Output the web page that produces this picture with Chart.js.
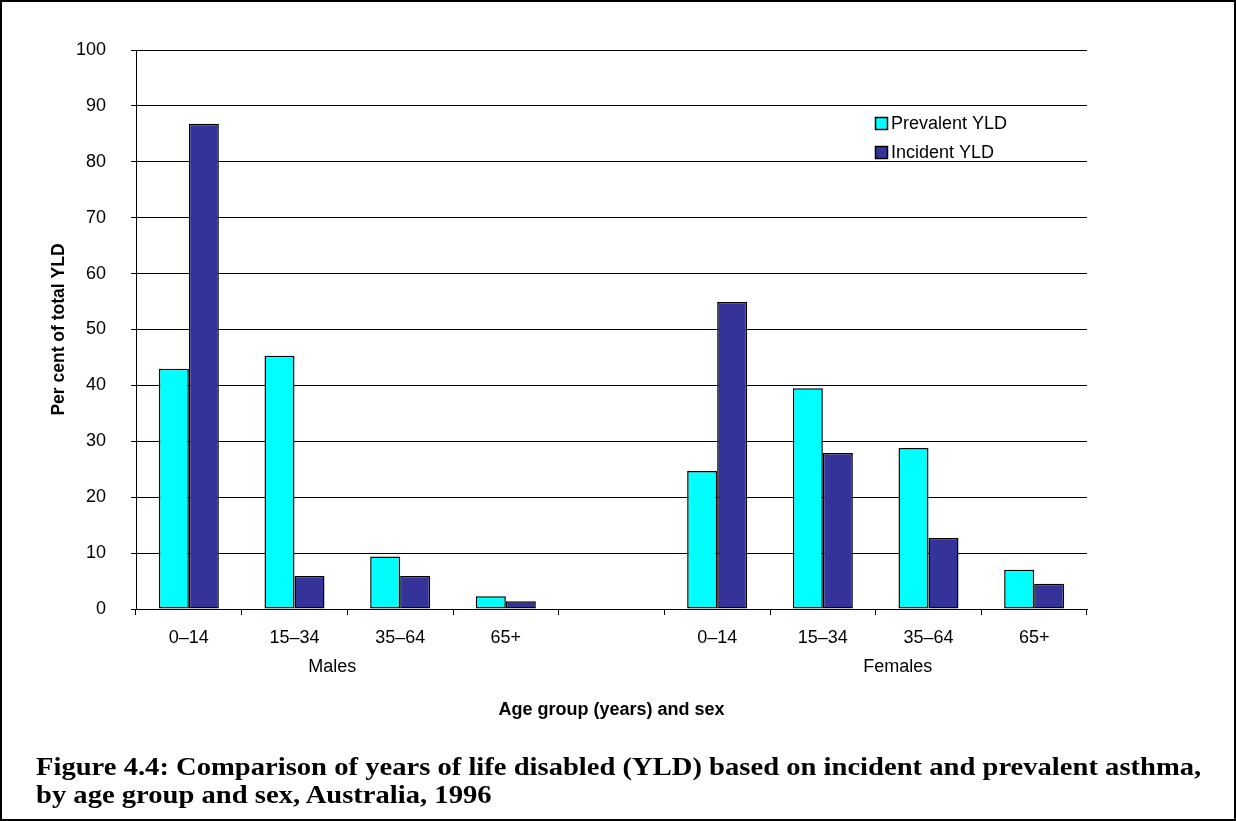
<!DOCTYPE html>
<html>
<head>
<meta charset="utf-8">
<script src="https://cdn.jsdelivr.net/npm/chart.js@4.4.0/dist/chart.umd.min.js"></script>
<style>
  html, body { margin: 0; padding: 0; background: #fff; }
  #frame { position: relative; width: 1232px; height: 817px; border: 2px solid #000; overflow: hidden; }
  #chartBox { position: absolute; left: 0; top: 0; width: 1232px; height: 817px; }
  #caption {
    position: absolute; left: 34px; top: 751px; white-space: nowrap;
    font-family: "Liberation Serif", serif; font-weight: bold; font-size: 26px; line-height: 28px; color: #000;
    transform: scaleX(1.1); transform-origin: left top;
  }
</style>
</head>
<body>
<div id="frame">
  <div id="chartBox"><canvas id="yldChart"></canvas></div>
  <div id="caption">Figure 4.4: Comparison of years of life disabled (YLD) based on incident and prevalent asthma,<br>by age group and sex, Australia, 1996</div>
</div>
<script>
// categories (blank slot between the two sexes)
const ageGroups = ['0–14', '15–34', '35–64', '65+', '', '0–14', '15–34', '35–64', '65+'];
const sexGroups = ['Males', 'Females'];

// per cent of total YLD
const prevalentYLD = [43.0, 45.3, 9.4, 2.3, null, 24.7, 39.5, 28.8, 7.0];
const incidentYLD = [86.8, 5.9, 5.9, 1.4, null, 54.9, 27.9, 12.7, 4.5];

const yTicks = [0, 10, 20, 30, 40, 50, 60, 70, 80, 90, 100];

const tickFont = { family: 'Liberation Sans, Arial, sans-serif', size: 18 };

// group labels under the age groups (Males / Females)
const groupLabels = {
    id: 'groupLabels',
    afterDraw(chart) {
        const ctx = chart.ctx;
        const x = chart.scales.x;
        ctx.save();
        ctx.font = '18px "Liberation Sans", Arial, sans-serif';
        ctx.fillStyle = '#000';
        ctx.textAlign = 'center';
        ctx.textBaseline = 'middle';
        ctx.fillText(sexGroups[0], x.getPixelForValue(1.5) - 15, 665);
        ctx.fillText(sexGroups[1], x.getPixelForValue(6.5) + 22, 665);
        ctx.restore();
    }
};

// legend in the upper right of the plot
const boxLegend = {
    id: 'boxLegend',
    afterDraw(chart) {
        const ctx = chart.ctx;
        ctx.save();
        ctx.font = '18px "Liberation Sans", Arial, sans-serif';
        ctx.textBaseline = 'middle';
        chart.data.datasets.forEach((ds, i) => {
            const y = 121 + i * 29;
            ctx.fillStyle = ds.backgroundColor;
            ctx.fillRect(873.5, y - 5.5, 12, 12);
            ctx.strokeStyle = '#000';
            ctx.lineWidth = 1.5;
            ctx.strokeRect(873.5, y - 5.5, 12, 12);
            ctx.fillStyle = '#000';
            ctx.fillText(ds.label, 889, y + 1);
        });
        ctx.restore();
    }
};

const ctx = document.getElementById('yldChart').getContext('2d');
const yldChart = new Chart(ctx, {
    type: 'bar',
    data: {
        labels: ageGroups,
        datasets: [
            {
                label: 'Prevalent YLD',
                data: prevalentYLD,
                backgroundColor: '#00FFFF',
                borderColor: '#000',
                borderWidth: 1.5,
                borderSkipped: false
            },
            {
                label: 'Incident YLD',
                data: incidentYLD,
                backgroundColor: '#333399',
                borderColor: '#000',
                borderWidth: 1.5,
                borderSkipped: false
            }
        ]
    },
    options: {
        responsive: true,
        maintainAspectRatio: false,
        animation: false,
        datasets: {
            bar: { categoryPercentage: 0.568, barPercentage: 1.0 }
        },
        layout: {
            padding: { left: 40, right: 147, top: 48, bottom: 90 }
        },
        plugins: {
            legend: { display: false },
            tooltip: { enabled: false }
        },
        scales: {
            x: {
                afterFit: s => { s.height = 120; },
                grid: {
                    offset: true,
                    drawOnChartArea: false,
                    color: '#000',
                    tickLength: 6
                },
                border: { color: '#000', width: 1 },
                ticks: { color: '#000', font: tickFont, padding: 12, maxRotation: 0, autoSkip: false },
                title: {
                    display: true,
                    text: 'Age group (years) and sex',
                    color: '#000',
                    font: { family: 'Liberation Sans, Arial, sans-serif', size: 18, weight: 'bold' },
                    padding: { top: 0, bottom: 8 }
                }
            },
            y: {
                min: 0,
                max: 100,
                afterFit: s => { s.width = 94; },
                afterBuildTicks: s => { s.ticks = yTicks.map(v => ({ value: v })); },
                grid: { color: '#000', tickLength: 5 },
                border: { color: '#000', width: 1 },
                ticks: { color: '#000', font: tickFont, padding: 25 },
                title: {
                    display: true,
                    text: 'Per cent of total YLD',
                    color: '#000',
                    font: { family: 'Liberation Sans, Arial, sans-serif', size: 17.5, weight: 'bold' },
                    padding: { top: 7, bottom: 0 }
                }
            }
        }
    },
    plugins: [groupLabels, boxLegend]
});
</script>
</body>
</html>
